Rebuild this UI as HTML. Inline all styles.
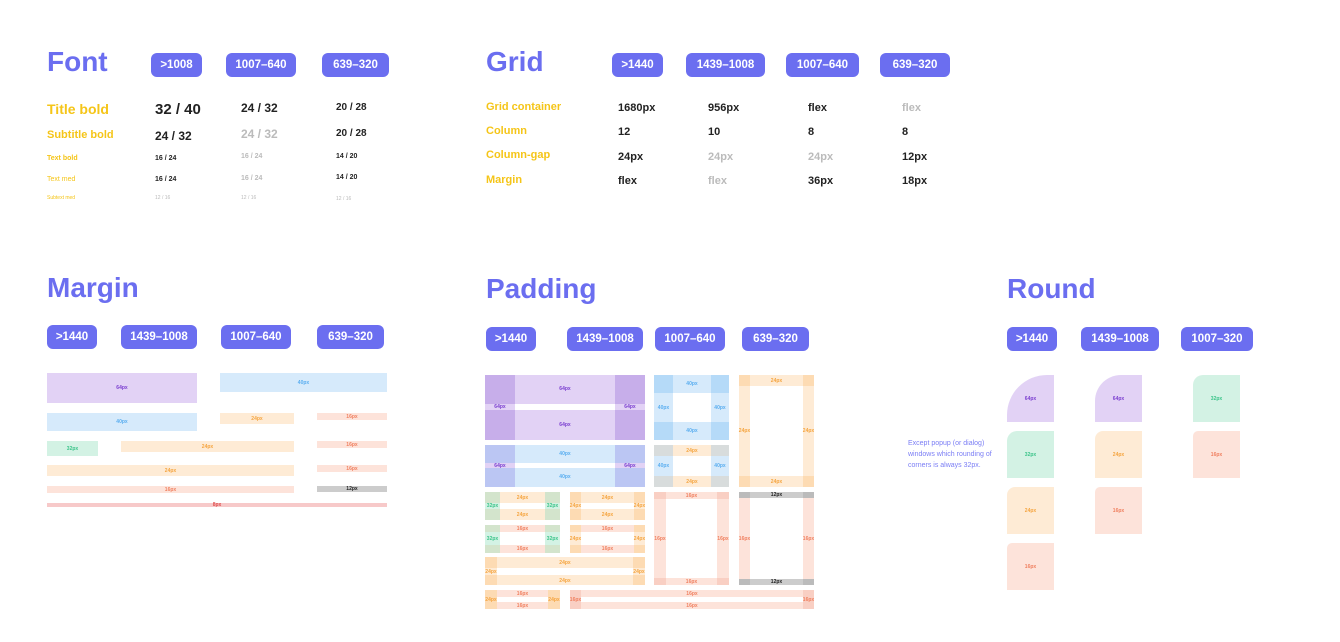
<!DOCTYPE html>
<html><head><meta charset="utf-8"><style>
*{margin:0;padding:0;box-sizing:border-box}
body{width:1340px;height:642px;background:#fff;position:relative;overflow:hidden;font-family:"Liberation Sans",sans-serif}
div{position:absolute}
.h{color:#6B6EF0;font-size:28px;font-weight:bold;line-height:1}
.bd{background:#6B6EF0;color:#fff;border-radius:6px;font-size:11.5px;font-weight:bold;display:flex;align-items:center;justify-content:center;height:24px}
.y{color:#F5C518;font-weight:bold;white-space:nowrap}
.v{color:#222;font-weight:bold;white-space:nowrap}
.g{color:#bbb}
.b{display:flex;align-items:center;justify-content:center;font-size:5px;font-weight:bold;white-space:nowrap}
.P{background:#E2D2F5;color:#7B3FD0}.PD{background:#C7AEEA}
.B{background:#D6EAFB;color:#5AAEF0}.BD{background:#B5DAF8}
.O{background:#FEEBD5;color:#F5A540}.OD{background:#FDDBB3}
.K{background:#FDE3DA;color:#F08060}.KD{background:#F9CFC3}
.G{background:#D3F2E4;color:#3CC48A}.GD{background:#D3E4CC}
.Y{background:#CCCCCC;color:#222}.YD{background:#BBBBBB}
.W{background:#fff}
</style></head><body>

<!-- FONT -->
<div class="h" style="left:47px;top:48px">Font</div>
<div class="bd" style="left:151px;top:53px;width:51px">&gt;1008</div>
<div class="bd" style="left:226px;top:53px;width:70px">1007–640</div>
<div class="bd" style="left:322px;top:53px;width:67px">639–320</div>
<div class="y" style="left:47px;top:101px;font-size:14px">Title bold</div>
<div class="y" style="left:47px;top:129px;font-size:11px">Subtitle bold</div>
<div class="y" style="left:47px;top:155px;font-size:7px">Text bold</div>
<div class="y" style="left:47px;top:176px;font-size:7px;font-weight:normal">Text med</div>
<div class="y" style="left:47px;top:195px;font-size:5px;font-weight:normal">Subtext med</div>
<div class="v" style="left:155px;top:101px;font-size:15px">32 / 40</div>
<div class="v" style="left:155px;top:129px;font-size:12px">24 / 32</div>
<div class="v" style="left:155px;top:155px;font-size:7px">16 / 24</div>
<div class="v" style="left:155px;top:176px;font-size:7px">16 / 24</div>
<div class="v g" style="left:155px;top:195px;font-size:5px;font-weight:normal">12 / 16</div>
<div class="v" style="left:241px;top:101px;font-size:12px">24 / 32</div>
<div class="v g" style="left:241px;top:127px;font-size:12px">24 / 32</div>
<div class="v g" style="left:241px;top:153px;font-size:7px">16 / 24</div>
<div class="v g" style="left:241px;top:175px;font-size:7px">16 / 24</div>
<div class="v g" style="left:241px;top:195px;font-size:5px;font-weight:normal">12 / 16</div>
<div class="v" style="left:336px;top:102px;font-size:10px">20 / 28</div>
<div class="v" style="left:336px;top:128px;font-size:10px">20 / 28</div>
<div class="v" style="left:336px;top:153px;font-size:7px">14 / 20</div>
<div class="v" style="left:336px;top:174px;font-size:7px">14 / 20</div>
<div class="v g" style="left:336px;top:196px;font-size:5px;font-weight:normal">12 / 16</div>

<!-- GRID -->
<div class="h" style="left:486px;top:48px">Grid</div>
<div class="bd" style="left:612px;top:53px;width:51px">&gt;1440</div>
<div class="bd" style="left:686px;top:53px;width:79px">1439–1008</div>
<div class="bd" style="left:786px;top:53px;width:73px">1007–640</div>
<div class="bd" style="left:880px;top:53px;width:70px">639–320</div>
<div class="y" style="left:486px;top:101px;font-size:11px">Grid container</div>
<div class="y" style="left:486px;top:125px;font-size:11px">Column</div>
<div class="y" style="left:486px;top:149px;font-size:11px">Column-gap</div>
<div class="y" style="left:486px;top:174px;font-size:11px">Margin</div>
<div class="v" style="left:618px;top:102px;font-size:11px">1680px</div>
<div class="v" style="left:618px;top:126px;font-size:11px">12</div>
<div class="v" style="left:618px;top:151px;font-size:11px">24px</div>
<div class="v" style="left:618px;top:175px;font-size:11px">flex</div>
<div class="v" style="left:708px;top:102px;font-size:11px">956px</div>
<div class="v" style="left:708px;top:126px;font-size:11px">10</div>
<div class="v g" style="left:708px;top:151px;font-size:11px">24px</div>
<div class="v g" style="left:708px;top:175px;font-size:11px">flex</div>
<div class="v" style="left:808px;top:102px;font-size:11px">flex</div>
<div class="v" style="left:808px;top:126px;font-size:11px">8</div>
<div class="v g" style="left:808px;top:151px;font-size:11px">24px</div>
<div class="v" style="left:808px;top:175px;font-size:11px">36px</div>
<div class="v g" style="left:902px;top:102px;font-size:11px">flex</div>
<div class="v" style="left:902px;top:126px;font-size:11px">8</div>
<div class="v" style="left:902px;top:151px;font-size:11px">12px</div>
<div class="v" style="left:902px;top:175px;font-size:11px">18px</div>

<!-- MARGIN -->
<div class="h" style="left:47px;top:274px">Margin</div>
<div class="bd" style="left:47px;top:325px;width:50px">&gt;1440</div>
<div class="bd" style="left:121px;top:325px;width:76px">1439–1008</div>
<div class="bd" style="left:221px;top:325px;width:70px">1007–640</div>
<div class="bd" style="left:317px;top:325px;width:67px">639–320</div>
<div class="b P" style="left:47px;top:373px;width:150px;height:30px">64px</div>
<div class="b B" style="left:220px;top:373px;width:167px;height:19px">40px</div>
<div class="b B" style="left:47px;top:413px;width:150px;height:18px">40px</div>
<div class="b O" style="left:220px;top:413px;width:74px;height:11px">24px</div>
<div class="b K" style="left:317px;top:413px;width:70px;height:7px">16px</div>
<div class="b G" style="left:47px;top:441px;width:51px;height:15px">32px</div>
<div class="b O" style="left:121px;top:441px;width:173px;height:11px">24px</div>
<div class="b K" style="left:317px;top:441px;width:70px;height:7px">16px</div>
<div class="b O" style="left:47px;top:465px;width:247px;height:11px">24px</div>
<div class="b K" style="left:317px;top:465px;width:70px;height:7px">16px</div>
<div class="b K" style="left:47px;top:486px;width:247px;height:7px">16px</div>
<div class="b Y" style="left:317px;top:486px;width:70px;height:6px">12px</div>
<div class="b" style="left:47px;top:503px;width:340px;height:4px;background:#F7C9C9;color:#E05050">8px</div>

<!-- PADDING -->
<div class="h" style="left:486px;top:275px">Padding</div>
<div class="bd" style="left:486px;top:327px;width:50px">&gt;1440</div>
<div class="bd" style="left:567px;top:327px;width:76px">1439–1008</div>
<div class="bd" style="left:655px;top:327px;width:70px">1007–640</div>
<div class="bd" style="left:742px;top:327px;width:67px">639–320</div>

<!-- purple box -->
<div class="b P" style="left:485px;top:375px;width:160px;height:65px"></div>
<div class="PD" style="left:485px;top:375px;width:30px;height:29px"></div>
<div class="PD" style="left:615px;top:375px;width:30px;height:29px"></div>
<div class="PD" style="left:485px;top:410px;width:30px;height:30px"></div>
<div class="PD" style="left:615px;top:410px;width:30px;height:30px"></div>
<div class="W" style="left:515px;top:404px;width:100px;height:6px"></div>
<div class="b P" style="left:515px;top:382px;width:100px;height:14px;background:none">64px</div>
<div class="b P" style="left:515px;top:418px;width:100px;height:14px;background:none">64px</div>
<div class="b P" style="left:485px;top:404px;width:30px;height:6px;background:none">64px</div>
<div class="b P" style="left:615px;top:404px;width:30px;height:6px;background:none">64px</div>
<!-- blue/purple box -->
<div class="B" style="left:485px;top:445px;width:160px;height:42px"></div>
<div style="left:485px;top:445px;width:30px;height:42px;background:#BBC6F3"></div>
<div style="left:615px;top:445px;width:30px;height:42px;background:#BBC6F3"></div>
<div class="W" style="left:515px;top:463px;width:100px;height:5px"></div>
<div class="b P" style="left:485px;top:463px;width:30px;height:5px">64px</div>
<div class="b P" style="left:615px;top:463px;width:30px;height:5px">64px</div>
<div class="b B" style="left:515px;top:448px;width:100px;height:12px;background:none">40px</div>
<div class="b B" style="left:515px;top:471px;width:100px;height:12px;background:none">40px</div>
<!-- green/orange row3 -->
<div class="O" style="left:485px;top:492px;width:75px;height:28px"></div>
<div class="GD" style="left:485px;top:492px;width:15px;height:28px"></div>
<div class="GD" style="left:545px;top:492px;width:15px;height:28px"></div>
<div class="W" style="left:500px;top:503px;width:45px;height:6px"></div>
<div class="b G" style="left:485px;top:503px;width:15px;height:6px">32px</div>
<div class="b G" style="left:545px;top:503px;width:15px;height:6px">32px</div>
<div class="b O" style="left:500px;top:493px;width:45px;height:9px;background:none">24px</div>
<div class="b O" style="left:500px;top:510px;width:45px;height:9px;background:none">24px</div>
<div class="O" style="left:570px;top:492px;width:75px;height:28px"></div>
<div class="OD" style="left:570px;top:492px;width:11px;height:28px"></div>
<div class="OD" style="left:634px;top:492px;width:11px;height:28px"></div>
<div class="W" style="left:581px;top:503px;width:53px;height:6px"></div>
<div class="b O" style="left:570px;top:503px;width:11px;height:6px">24px</div>
<div class="b O" style="left:634px;top:503px;width:11px;height:6px">24px</div>
<div class="b O" style="left:581px;top:493px;width:53px;height:9px;background:none">24px</div>
<div class="b O" style="left:581px;top:510px;width:53px;height:9px;background:none">24px</div>
<!-- row4 -->
<div class="K" style="left:485px;top:525px;width:75px;height:28px"></div>
<div class="GD" style="left:485px;top:525px;width:15px;height:28px"></div>
<div class="GD" style="left:545px;top:525px;width:15px;height:28px"></div>
<div class="W" style="left:500px;top:532px;width:45px;height:13px"></div>
<div class="b G" style="left:485px;top:532px;width:15px;height:13px">32px</div>
<div class="b G" style="left:545px;top:532px;width:15px;height:13px">32px</div>
<div class="b K" style="left:500px;top:525px;width:45px;height:7px;background:none">16px</div>
<div class="b K" style="left:500px;top:545px;width:45px;height:8px;background:none">16px</div>
<div class="K" style="left:570px;top:525px;width:75px;height:28px"></div>
<div class="OD" style="left:570px;top:525px;width:11px;height:28px"></div>
<div class="OD" style="left:634px;top:525px;width:11px;height:28px"></div>
<div class="W" style="left:581px;top:532px;width:53px;height:13px"></div>
<div class="b O" style="left:570px;top:532px;width:11px;height:13px">24px</div>
<div class="b O" style="left:634px;top:532px;width:11px;height:13px">24px</div>
<div class="b K" style="left:581px;top:525px;width:53px;height:7px;background:none">16px</div>
<div class="b K" style="left:581px;top:545px;width:53px;height:8px;background:none">16px</div>
<!-- row5 -->
<div class="O" style="left:485px;top:557px;width:160px;height:28px"></div>
<div class="OD" style="left:485px;top:557px;width:12px;height:28px"></div>
<div class="OD" style="left:633px;top:557px;width:12px;height:28px"></div>
<div class="W" style="left:497px;top:568px;width:136px;height:7px"></div>
<div class="b O" style="left:485px;top:568px;width:12px;height:7px">24px</div>
<div class="b O" style="left:633px;top:568px;width:12px;height:7px">24px</div>
<div class="b O" style="left:497px;top:558px;width:136px;height:9px;background:none">24px</div>
<div class="b O" style="left:497px;top:576px;width:136px;height:9px;background:none">24px</div>
<!-- row6 -->
<div class="K" style="left:485px;top:590px;width:75px;height:19px"></div>
<div class="OD" style="left:485px;top:590px;width:12px;height:19px"></div>
<div class="OD" style="left:548px;top:590px;width:12px;height:19px"></div>
<div class="W" style="left:497px;top:597px;width:51px;height:5px"></div>
<div class="b O" style="left:485px;top:590px;width:12px;height:19px;background:none">24px</div>
<div class="b O" style="left:548px;top:590px;width:12px;height:19px;background:none">24px</div>
<div class="b K" style="left:497px;top:590px;width:51px;height:7px;background:none">16px</div>
<div class="b K" style="left:497px;top:602px;width:51px;height:7px;background:none">16px</div>
<div class="K" style="left:570px;top:590px;width:244px;height:19px"></div>
<div class="KD" style="left:570px;top:590px;width:11px;height:19px"></div>
<div class="KD" style="left:803px;top:590px;width:11px;height:19px"></div>
<div class="W" style="left:581px;top:597px;width:222px;height:5px"></div>
<div class="b K" style="left:570px;top:590px;width:11px;height:19px;background:none">16px</div>
<div class="b K" style="left:803px;top:590px;width:11px;height:19px;background:none">16px</div>
<div class="b K" style="left:581px;top:590px;width:222px;height:7px;background:none">16px</div>
<div class="b K" style="left:581px;top:602px;width:222px;height:7px;background:none">16px</div>
<!-- blue box -->
<div class="B" style="left:654px;top:375px;width:75px;height:65px"></div>
<div class="BD" style="left:654px;top:375px;width:19px;height:18px"></div>
<div class="BD" style="left:711px;top:375px;width:18px;height:18px"></div>
<div class="BD" style="left:654px;top:422px;width:19px;height:18px"></div>
<div class="BD" style="left:711px;top:422px;width:18px;height:18px"></div>
<div class="W" style="left:673px;top:393px;width:38px;height:29px"></div>
<div class="b B" style="left:673px;top:375px;width:38px;height:18px;background:none">40px</div>
<div class="b B" style="left:673px;top:422px;width:38px;height:18px;background:none">40px</div>
<div class="b B" style="left:654px;top:393px;width:19px;height:29px;background:none">40px</div>
<div class="b B" style="left:711px;top:393px;width:18px;height:29px;background:none">40px</div>
<!-- gray/blue/orange -->
<div style="left:654px;top:445px;width:75px;height:42px;background:#D8DCDC"></div>
<div class="b O" style="left:673px;top:445px;width:38px;height:11px">24px</div>
<div class="b O" style="left:673px;top:476px;width:38px;height:11px">24px</div>
<div class="b B" style="left:654px;top:456px;width:19px;height:20px">40px</div>
<div class="b B" style="left:711px;top:456px;width:18px;height:20px">40px</div>
<div class="W" style="left:673px;top:456px;width:38px;height:20px"></div>
<!-- orange tall -->
<div class="O" style="left:739px;top:375px;width:75px;height:112px"></div>
<div class="OD" style="left:739px;top:375px;width:11px;height:11px"></div>
<div class="OD" style="left:803px;top:375px;width:11px;height:11px"></div>
<div class="OD" style="left:739px;top:476px;width:11px;height:11px"></div>
<div class="OD" style="left:803px;top:476px;width:11px;height:11px"></div>
<div class="W" style="left:750px;top:386px;width:53px;height:90px"></div>
<div class="b O" style="left:750px;top:375px;width:53px;height:11px;background:none">24px</div>
<div class="b O" style="left:750px;top:476px;width:53px;height:11px;background:none">24px</div>
<div class="b O" style="left:739px;top:386px;width:11px;height:90px;background:none">24px</div>
<div class="b O" style="left:803px;top:386px;width:11px;height:90px;background:none">24px</div>
<!-- pink tall -->
<div class="K" style="left:654px;top:492px;width:75px;height:93px"></div>
<div class="KD" style="left:654px;top:492px;width:12px;height:7px"></div>
<div class="KD" style="left:717px;top:492px;width:12px;height:7px"></div>
<div class="KD" style="left:654px;top:578px;width:12px;height:7px"></div>
<div class="KD" style="left:717px;top:578px;width:12px;height:7px"></div>
<div class="W" style="left:666px;top:499px;width:51px;height:79px"></div>
<div class="b K" style="left:666px;top:492px;width:51px;height:7px;background:none">16px</div>
<div class="b K" style="left:666px;top:578px;width:51px;height:7px;background:none">16px</div>
<div class="b K" style="left:654px;top:499px;width:12px;height:79px;background:none">16px</div>
<div class="b K" style="left:717px;top:499px;width:12px;height:79px;background:none">16px</div>
<!-- gray-bordered tall -->
<div class="K" style="left:739px;top:492px;width:75px;height:93px"></div>
<div class="b Y" style="left:739px;top:492px;width:75px;height:6px">12px</div>
<div class="b Y" style="left:739px;top:579px;width:75px;height:6px">12px</div>
<div class="YD" style="left:739px;top:492px;width:11px;height:6px"></div>
<div class="YD" style="left:803px;top:492px;width:11px;height:6px"></div>
<div class="YD" style="left:739px;top:579px;width:11px;height:6px"></div>
<div class="YD" style="left:803px;top:579px;width:11px;height:6px"></div>
<div class="W" style="left:750px;top:498px;width:53px;height:81px"></div>
<div class="b K" style="left:739px;top:498px;width:11px;height:81px;background:none">16px</div>
<div class="b K" style="left:803px;top:498px;width:11px;height:81px;background:none">16px</div>

<!-- ROUND -->
<div class="h" style="left:1007px;top:275px">Round</div>
<div class="bd" style="left:1007px;top:327px;width:50px">&gt;1440</div>
<div class="bd" style="left:1081px;top:327px;width:78px">1439–1008</div>
<div class="bd" style="left:1181px;top:327px;width:72px">1007–320</div>
<div style="left:908px;top:438px;width:100px;font-size:7px;line-height:11px;color:#7B7EF5">Except popup (or dialog) windows which rounding of corners is always 32px.</div>
<div class="b P" style="left:1007px;top:375px;width:47px;height:47px;border-top-left-radius:40px">64px</div>
<div class="b G" style="left:1007px;top:431px;width:47px;height:47px;border-top-left-radius:10px">32px</div>
<div class="b O" style="left:1007px;top:487px;width:47px;height:47px;border-top-left-radius:8px">24px</div>
<div class="b K" style="left:1007px;top:543px;width:47px;height:47px;border-top-left-radius:5px">16px</div>
<div class="b P" style="left:1095px;top:375px;width:47px;height:47px;border-top-left-radius:26px">64px</div>
<div class="b O" style="left:1095px;top:431px;width:47px;height:47px;border-top-left-radius:8px">24px</div>
<div class="b K" style="left:1095px;top:487px;width:47px;height:47px;border-top-left-radius:5px">16px</div>
<div class="b G" style="left:1193px;top:375px;width:47px;height:47px;border-top-left-radius:10px">32px</div>
<div class="b K" style="left:1193px;top:431px;width:47px;height:47px;border-top-left-radius:5px">16px</div>

</body></html>
